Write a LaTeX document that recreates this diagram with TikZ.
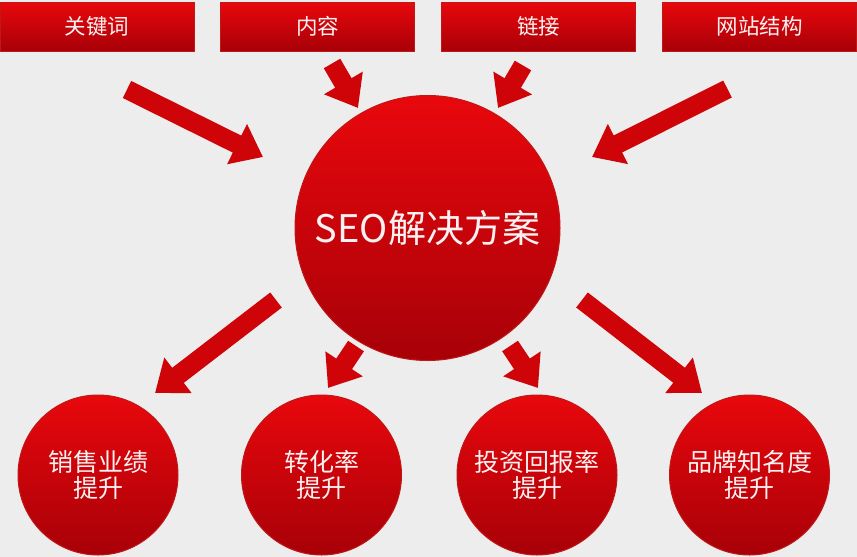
\documentclass[tikz,border=0pt]{standalone}
\usepackage{fontspec}
\setmainfont{Noto Sans CJK SC}
\usetikzlibrary{arrows.meta}
\definecolor{bgray}{HTML}{EDEDED}
\definecolor{redtop}{HTML}{E8080C}
\definecolor{redbot}{HTML}{A80008}
\definecolor{redline}{HTML}{C01818}
\definecolor{redarrow}{HTML}{CF0408}
\definecolor{txtwhite}{HTML}{FAF2F2}
\tikzset{
  topbox/.style={rectangle, minimum width=194pt, minimum height=49pt, inner sep=0pt,
    top color=redtop, bottom color=redbot, draw=redline, line width=1pt,
    text=txtwhite, font=\fontsize{21.5pt}{24pt}\selectfont},
  bigball/.style={circle, minimum size=265pt, inner sep=0pt,
    top color=redtop, bottom color=redbot, draw=redline, line width=1pt,
    text=txtwhite, font=\fontsize{38pt}{42pt}\selectfont},
  smallball/.style={circle, minimum size=160pt, inner sep=0pt, align=center,
    top color=redtop, bottom color=redbot, draw=redline, line width=1pt,
    text=txtwhite, font=\fontsize{25pt}{26pt}\selectfont},
  fatarrow/.style={draw=redarrow, line width=19pt,
    -{Triangle[width=43pt,length=29pt]}}
}
\begin{document}
\begin{tikzpicture}[x=1pt, y=-1pt]
    % background
    \fill[bgray] (0,0) rectangle (857,557);
    \useasboundingbox (0,0) rectangle (857,557);

    % top boxes
    \node[topbox] (kw) at (97,26.5) {关键词};
    \node[topbox] (nr) at (317.5,26.5) {内容};
    \node[topbox] (lj) at (538.5,26.5) {链接};
    \node[topbox] (wz) at (759.5,26.5) {网站结构};

    % centre
    \node[bigball] (seo) at (427.5,228) {SEO解决方案};

    % results
    \node[smallball] (xs) at (98,475) {销售业绩\\提升};
    \node[smallball] (zh) at (321.5,475) {转化率\\提升};
    \node[smallball] (tz) at (537,475) {投资回报率\\提升};
    \node[smallball] (pp) at (749.5,475) {品牌知名度\\提升};

    % arrow ends
    \coordinate (kw-out) at (127,89.5);
    \coordinate (nr-out) at (332,63.5);
    \coordinate (lj-out) at (523,65.5);
    \coordinate (wz-out) at (727.5,89);
    \coordinate (seo-in1) at (263,157);
    \coordinate (seo-in2) at (358,108);
    \coordinate (seo-in3) at (498,108);
    \coordinate (seo-in4) at (592,157);
    \coordinate (seo-out1) at (276,300);
    \coordinate (seo-out2) at (356,346);
    \coordinate (seo-out3) at (510,346);
    \coordinate (seo-out4) at (582,300);
    \coordinate (xs-in) at (155,393);
    \coordinate (zh-in) at (328,388);
    \coordinate (tz-in) at (538,388);
    \coordinate (pp-in) at (702,393);

    % arrows
    \foreach \a/\b in {kw-out/seo-in1, nr-out/seo-in2, lj-out/seo-in3, wz-out/seo-in4,
        seo-out1/xs-in, seo-out2/zh-in, seo-out3/tz-in, seo-out4/pp-in} {
        \draw[fatarrow] (\a) -- (\b);
    }
\end{tikzpicture}
\end{document}
